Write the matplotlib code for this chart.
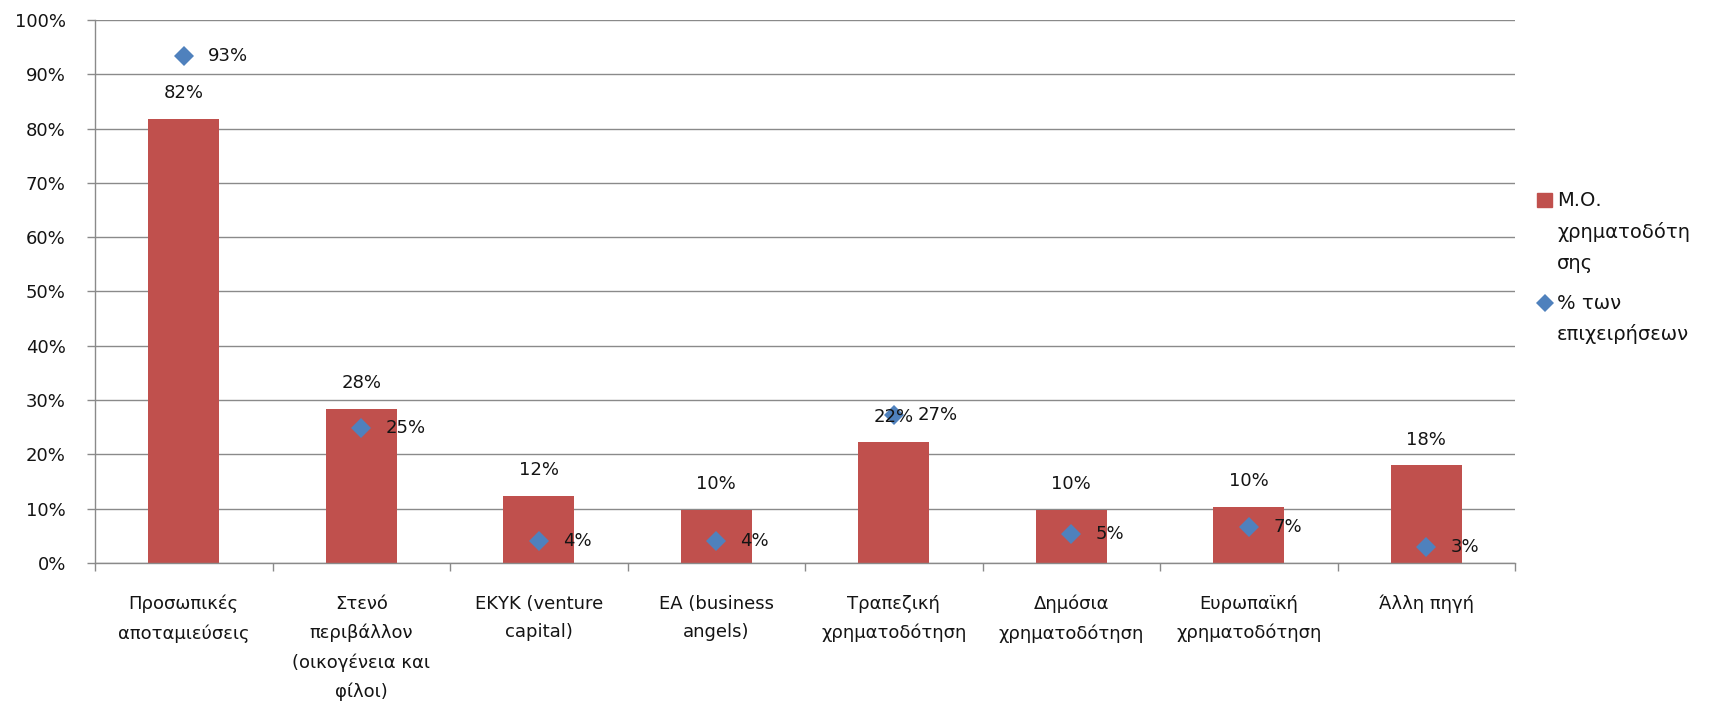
import matplotlib
matplotlib.use("Agg")
import matplotlib.pyplot as plt
from matplotlib.lines import Line2D
from matplotlib.patches import Rectangle
from matplotlib.ticker import PercentFormatter, FixedLocator
import numpy as np

categories = [
    "Προσωπικές\nαποταμιεύσεις",
    "Στενό\nπεριβάλλον\n(οικογένεια και\nφίλοι)",
    "ΕΚΥΚ (venture\ncapital)",
    "ΕΑ (business\nangels)",
    "Τραπεζική\nχρηματοδότηση",
    "Δημόσια\nχρηματοδότηση",
    "Ευρωπαϊκή\nχρηματοδότηση",
    "Άλλη πηγή",
]
avg_funding = [0.818, 0.284, 0.124, 0.098, 0.222, 0.098, 0.104, 0.180]
share_firms = [0.934, 0.248, 0.041, 0.041, 0.273, 0.053, 0.066, 0.030]
legend_bar = "Μ.Ο.\nχρηματοδότη\nσης"
legend_pt = "% των\nεπιχειρήσεων"

plt.rcParams['font.family'] = ['DejaVu Sans']
FS = 13
TXT = '#141414'
GRID = '#8a8a8a'
BAR = '#C0504D'
PT = '#4F81BD'

W, H = 1711, 703
fig = plt.figure(figsize=(W / 100, H / 100), dpi=100)
ax = fig.add_axes([95 / W, 1 - 563 / H, 1420 / W, 543 / H])

x = np.arange(len(categories))
ax.bar(x, avg_funding, width=0.4, color=BAR, zorder=2)
ax.plot(x, share_firms, linestyle='none', marker='D', markersize=10.5,
        color=PT, markeredgewidth=0, zorder=3)

for xi, v in zip(x, avg_funding):
    ax.annotate(f"{v*100:.0f}%", (xi, v), xytext=(0, 18.5), textcoords='offset points',
                ha='center', va='center', fontsize=FS, color=TXT, zorder=4)
for xi, v in zip(x, share_firms):
    ax.annotate(f"{v*100:.0f}%", (xi, v), xytext=(17.5, 0), textcoords='offset points',
                ha='left', va='center', fontsize=FS, color=TXT, zorder=4)

ax.set_xlim(-0.5, len(categories) - 0.5)
ax.set_ylim(0, 1)
ax.set_yticks(np.arange(0, 1.01, 0.1))
ax.yaxis.set_major_formatter(PercentFormatter(1.0, decimals=0))
ax.grid(axis='y', color=GRID, linewidth=1.0, zorder=0)
ax.set_axisbelow(True)

ax.set_xticks(x)
ax.set_xticklabels(categories, fontsize=FS, color=TXT, linespacing=1.75)
ax.xaxis.set_minor_locator(FixedLocator(np.arange(-0.5, len(categories), 1.0)))
ax.tick_params(axis='x', which='major', length=0, pad=23)
ax.tick_params(axis='x', which='minor', length=6, color=GRID, width=1.0)
ax.tick_params(axis='y', length=6, color=GRID, width=1.0, labelsize=FS,
               labelcolor=TXT, pad=15)

for s in ['top', 'right']:
    ax.spines[s].set_visible(False)
for s in ['left', 'bottom']:
    ax.spines[s].set_color(GRID)
    ax.spines[s].set_linewidth(1.0)

# legend (manual, first-line aligned as in reference)
LS = 31.5
fig.add_artist(Rectangle(((1544 - 7.5) / W, 1 - (200 + 7) / H), 15 / W, 14 / H,
                         transform=fig.transFigure, color=BAR))
fig.add_artist(Line2D([1545 / W], [1 - 303 / H], transform=fig.transFigure,
                      marker='D', markersize=9, color=PT, markeredgewidth=0,
                      linestyle='none'))
for label, base in [(legend_bar, 206), (legend_pt, 309)]:
    for i, line in enumerate(label.split("\n")):
        fig.text(1557 / W, 1 - (base + i * LS) / H, line, fontsize=14, color=TXT,
                 va='baseline', ha='left')

fig.savefig("out.png", dpi=100, facecolor='white')
